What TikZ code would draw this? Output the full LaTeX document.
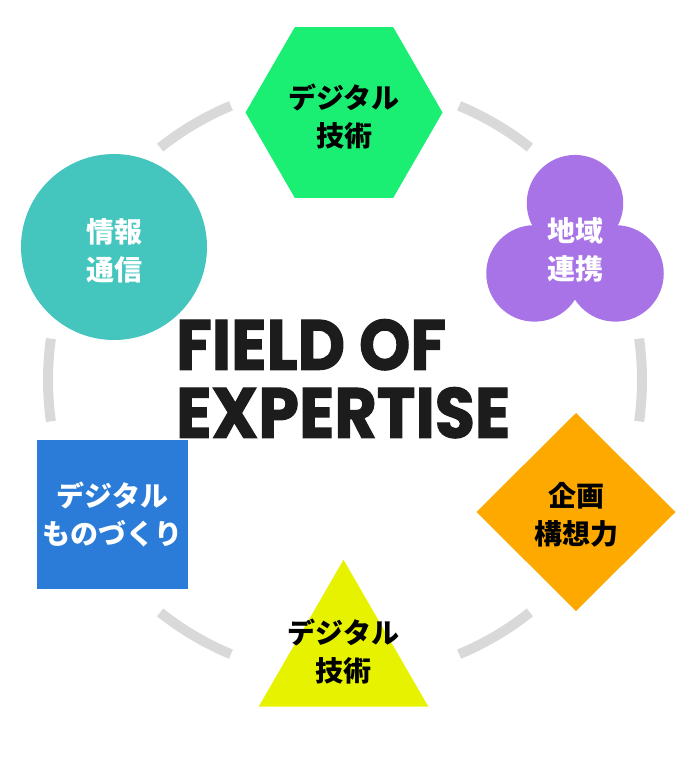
\documentclass[tikz,border=0pt]{standalone}
\usepackage{fontspec}
\usepackage{tikz}
\usetikzlibrary{shapes.geometric}
\newfontfamily\jpfont{Noto Sans CJK JP}
\newfontfamily\titlefont{Poppins}[FakeStretch=0.92, FakeBold=1.5]
\definecolor{ringGray}{HTML}{D9D9D9}
\definecolor{titleDark}{HTML}{1C1C1C}
\definecolor{techGreen}{HTML}{1AEF73}
\definecolor{infoTeal}{HTML}{44C6BE}
\definecolor{regionPurple}{HTML}{A873E7}
\definecolor{makeBlue}{HTML}{2A7CD8}
\definecolor{planOrange}{HTML}{FDA900}
\definecolor{techYellow}{HTML}{E6F200}

\begin{document}
\begin{tikzpicture}[x=1pt, y=-1pt,
    ringStyle/.style={draw=ringGray, line width=10pt},
    shapeStyle/.style={inner sep=0pt, outer sep=0pt},
    jpStyle/.style={font=\jpfont\bfseries\fontsize{28}{38}\selectfont, align=center, inner sep=0pt},
    titleStyle/.style={font=\titlefont\bfseries\fontsize{71}{68}\selectfont, align=left, inner sep=0pt, text=titleDark}
]
    \useasboundingbox (0,0) rectangle (688,760);

    % broken ring behind the shapes
    \coordinate (ring) at (345,380);
    \foreach \a/\b in {112.6/128.5, 51.5/67.4, 172/188, -8/8, 231.5/247.4, 292.6/308.5}
        \draw[ringStyle] (ring) ++(-\a:297) arc[start angle=-\a, end angle=-\b, radius=297];

    % shapes
    \node[shapeStyle, regular polygon, regular polygon sides=6, minimum size=197pt, fill=techGreen] (hexTech) at (344,112.5) {};
    \node[shapeStyle, circle, minimum size=186pt, fill=infoTeal] (circInfo) at (114,247) {};
    \node[shapeStyle, circle, minimum size=96.5pt, fill=regionPurple] (lobeTop) at (575,203.2) {};
    \node[shapeStyle, circle, minimum size=96.5pt, fill=regionPurple] (lobeLeft) at (534.5,273.4) {};
    \node[shapeStyle, circle, minimum size=96.5pt, fill=regionPurple] (lobeRight) at (615.5,273.4) {};
    \node[shapeStyle, rectangle, minimum width=151pt, minimum height=149pt, fill=makeBlue] (rectMake) at (112.5,514.5) {};
    \node[shapeStyle, diamond, minimum width=199pt, minimum height=198pt, fill=planOrange] (diaPlan) at (576,512) {};
    \node[shapeStyle, regular polygon, regular polygon sides=3, minimum size=196pt, fill=techYellow] (triTech) at (343.5,657.7) {};

    % labels
    \node[jpStyle] (hexText) at (344,116.5) {デジタル\\技術};
    \node[jpStyle, text=white] (infoText) at (114,251) {情報\\通信};
    \node[jpStyle, text=white] (regionText) at (575,249.5) {地域\\連携};
    \node[jpStyle, text=white] (makeText) at (112.5,514) {デジタル\\ものづくり};
    \node[jpStyle] (planText) at (576,514.5) {企画\\構想力};
    \node[jpStyle] (triText) at (343.5,652) {デジタル\\技術};

    \node[titleStyle, anchor=north west] (title) at (176,319) {FIELD OF\\EXPERTISE};
\end{tikzpicture}
\end{document}
